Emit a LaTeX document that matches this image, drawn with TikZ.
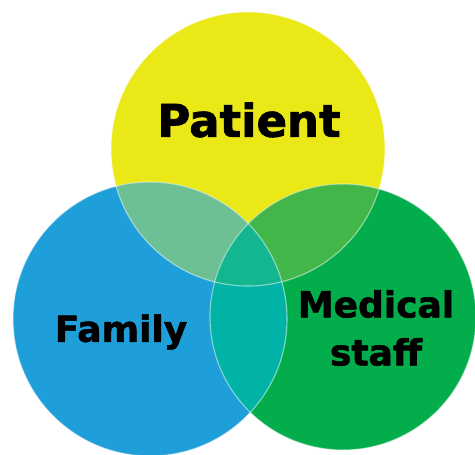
\documentclass[tikz,border=0pt]{standalone}
\usepackage{fontspec}
\setmainfont{DejaVu Sans}[BoldFeatures={FakeBold=1.6}]
\usepackage{tikz}
\usetikzlibrary{positioning}

\definecolor{patientyellow}{HTML}{EBE817}
\definecolor{familyblue}{HTML}{1E9FD9}
\definecolor{staffgreen}{HTML}{03AD4C}
\definecolor{pfmix}{HTML}{6DBF94}
\definecolor{psmix}{HTML}{43B649}
\definecolor{fsmix}{HTML}{00B3A6}
\definecolor{allmix}{HTML}{13B68F}

\def\patientcircle{(248,149) circle (137pt)}
\def\familycircle{(150,319) circle (137pt)}
\def\staffcircle{(343,317) circle (133pt)}

\begin{document}
\begin{tikzpicture}[x=1pt,y=-1pt,
    rim/.style={draw=white, draw opacity=0.5, line width=1.1pt},
    venntext/.style={font=\bfseries, text=black, align=center}]
    \useasboundingbox (0,0) rectangle (475,455);

    % the three circles
    \fill[patientyellow] \patientcircle;
    \fill[familyblue] \familycircle;
    \fill[staffgreen] \staffcircle;

    % overlaps
    \begin{scope}
        \clip \patientcircle;
        \fill[pfmix] \familycircle;
        \fill[psmix] \staffcircle;
    \end{scope}
    \begin{scope}
        \clip \familycircle;
        \fill[fsmix] \staffcircle;
        \clip \patientcircle;
        \fill[allmix] \staffcircle;
    \end{scope}

    % light rims
    \path[rim] \patientcircle;
    \path[rim] \familycircle;
    \path[rim] \staffcircle;

    % labels
    \node[venntext, font=\fontsize{45}{54}\selectfont\bfseries] (patient) at (249,120) {Patient};
    \node[venntext, font=\fontsize{36}{48}\selectfont\bfseries] (family) at (121,332) {Family};
    \node[venntext, font=\fontsize{36}{48}\selectfont\bfseries] (staff) at (376,328) {Medical\\staff};
\end{tikzpicture}
\end{document}
